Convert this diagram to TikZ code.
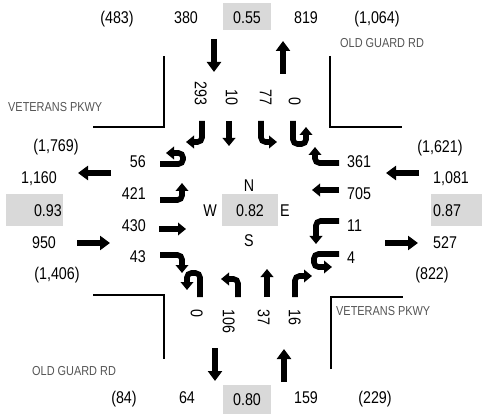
\documentclass[tikz,border=0pt]{standalone}
\usepackage{fontspec}
\setmainfont{Liberation Sans}[FakeStretch=0.84]
\usetikzlibrary{arrows.meta}
\definecolor{boxgray}{HTML}{D9D9D9}
\definecolor{labgray}{HTML}{555555}
\tikzset{
  num/.style={inner sep=0pt, text height=12.2pt, text depth=0pt, font=\fontsize{17}{20}\selectfont},
  lab/.style={inner sep=0pt, anchor=west, text height=9.3pt, text depth=0pt, text=labgray, font=\fontsize{13}{15}\selectfont},
  gbox/.style={fill=boxgray, draw=none},
  mv/.style={line width=5.6pt, rounded corners=4.5pt, -{Triangle[width=12.5pt,length=8pt]}},
  big/.style={line width=6pt, -{Triangle[width=14pt,length=10pt]}},
  road/.style={line width=1.4pt}
}
\begin{document}
\begin{tikzpicture}[x=1pt,y=-1pt]
\useasboundingbox (0,0) rectangle (482,414);
% gray boxes
\fill[gbox] (223,3) rectangle (271,30);
\fill[gbox] (6,194) rectangle (63,226);
\fill[gbox] (431,194) rectangle (482,226);
\fill[gbox] (223,385) rectangle (271,414);
\fill[gbox] (222,194) rectangle (278,226);
% road edges
\draw[road] (93,127) -- (164,127) -- (164,56);
\draw[road] (330,56) -- (330,127) -- (402,127);
\draw[road] (93,295) -- (164,295) -- (164,359);
\draw[road] (331,369) -- (331,297) -- (403,297);
% road names
\node[lab] (oldgne) at (340,43) {OLD GUARD RD};
\node[lab] (vetnw) at (8,107) {VETERANS PKWY};
\node[lab] (vetse) at (336,311) {VETERANS PKWY};
\node[lab] (oldgsw) at (32,371) {OLD GUARD RD};
% top row
\node[num] (t1) at (117,17) {(483)};
\node[num] (t2) at (186,17) {380};
\node[num] (t3) at (247,17) {0.55};
\node[num] (t4) at (306,17) {819};
\node[num] (t5) at (377,17) {(1,064)};
% bottom row
\node[num] (b1) at (124,397) {(84)};
\node[num] (b2) at (187,397) {64};
\node[num] (b3) at (247,399) {0.80};
\node[num] (b4) at (306,397) {159};
\node[num] (b5) at (375,397) {(229)};
% left column
\node[num] (l1) at (56,145) {(1,769)};
\node[num] (l2) at (39,177) {1,160};
\node[num, anchor=east] (l3) at (62,210) {0.93};
\node[num] (l4) at (44,242) {950};
\node[num] (l5) at (57,273) {(1,406)};
% right column
\node[num] (r1) at (440,146) {(1,621)};
\node[num, anchor=west] (r2) at (433,177) {1,081};
\node[num, anchor=west] (r3) at (433,210) {0.87};
\node[num, anchor=west] (r4) at (433,242) {527};
\node[num] (r5) at (432,273) {(822)};
% center
\node[num] (cn) at (249,185) {N};
\node[num] (cw) at (210,210) {W};
\node[num] (cv) at (250,210) {0.82};
\node[num] (ce) at (285,210) {E};
\node[num] (cs) at (249,240) {S};
% west approach volumes
\node[num, anchor=east] (w1) at (146,161) {56};
\node[num, anchor=east] (w2) at (146,193) {421};
\node[num, anchor=east] (w3) at (146,225) {430};
\node[num, anchor=east] (w4) at (146,256) {43};
% east approach volumes
\node[num, anchor=west] (e1) at (347,161) {361};
\node[num, anchor=west] (e2) at (347,193) {705};
\node[num, anchor=west] (e3) at (347,225) {11};
\node[num, anchor=west] (e4) at (347,257) {4};
% north approach volumes
\node[num, rotate=-90, anchor=east] (n1) at (201,106) {293};
\node[num, rotate=-90, anchor=east] (n2) at (232,106) {10};
\node[num, rotate=-90, anchor=east] (n3) at (266,106) {77};
\node[num, rotate=-90, anchor=east] (n4) at (295,106) {0};
% south approach volumes
\node[num, rotate=-90, anchor=west] (s1) at (197,309) {0};
\node[num, rotate=-90, anchor=west] (s2) at (229,309) {106};
\node[num, rotate=-90, anchor=west] (s3) at (264,309) {37};
\node[num, rotate=-90, anchor=west] (s4) at (295,309) {16};
% big approach arrows
\draw[big] (111,173) -- (78,173);
\draw[big] (77,243) -- (110,243);
\draw[big] (419,173) -- (386,173);
\draw[big] (385,243) -- (418,243);
\draw[big] (214,39) -- (214,72);
\draw[big] (283,74) -- (283,41);
\draw[big] (215,348) -- (215,381);
\draw[big] (284,382) -- (284,349);
% west movements
\draw[mv] (160,164) -- (183,164) -- (183,153) -- (166,153);
\draw[mv] (160,200) -- (182,200) -- (182,183);
\draw[mv] (159,229) -- (186,229);
\draw[mv] (160,255) -- (182,255) -- (182,273);
% north movements
\draw[mv] (202,121) -- (202,142) -- (186,142);
\draw[mv] (229,121) -- (229,146);
\draw[mv] (261,121) -- (261,142) -- (277,142);
\draw[mv] (293,121) -- (293,144) -- (306,144) -- (306,127);
% east movements
\draw[mv] (339,163) -- (315,163) -- (315,147);
\draw[mv] (339,190) -- (312,190);
\draw[mv] (339,221) -- (316,221) -- (316,244);
\draw[mv] (339,254) -- (314,254) -- (314,267) -- (332,267);
% south movements
\draw[mv] (200,297) -- (200,273) -- (187,273) -- (187,290);
\draw[mv] (238,297) -- (238,279) -- (221,279);
\draw[mv] (267,297) -- (267,269);
\draw[mv] (295,297) -- (295,276) -- (312,276);
\end{tikzpicture}
\end{document}
